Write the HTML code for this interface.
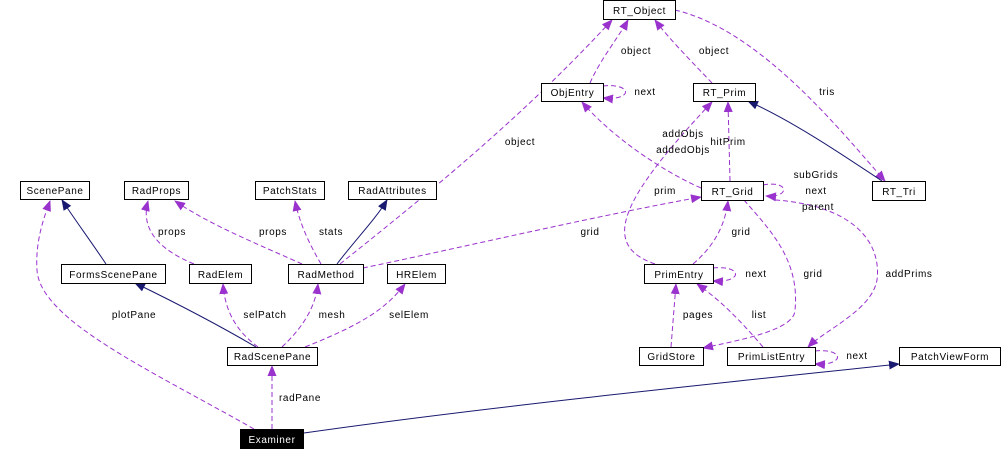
<!DOCTYPE html>
<html><head><meta charset="utf-8"><style>
html,body{margin:0;padding:0;background:#fff}
svg{display:block}
text{font-family:"Liberation Sans",sans-serif;font-size:10px;fill:#000;letter-spacing:0.6px}
.n{fill:#fff;stroke:#000;stroke-width:1}
.p{fill:none;stroke:#9a32cd;stroke-width:1;stroke-dasharray:5,3}
.s{fill:none;stroke:#191970;stroke-width:1}
</style></head><body>
<svg width="1002" height="450" viewBox="0 0 1002 450">
<defs>
<marker id="mp" markerUnits="userSpaceOnUse" markerWidth="12" markerHeight="10" refX="10" refY="4.5" orient="auto"><path d="M0,0 L11,4.5 L0,9 z" fill="#9a32cd"/></marker>
<marker id="ms" markerUnits="userSpaceOnUse" markerWidth="12" markerHeight="10" refX="10" refY="4.5" orient="auto"><path d="M0,0 L11,4.5 L0,9 z" fill="#191970"/></marker>
</defs>
<g marker-end="url(#mp)">
<path class="p" d="M590,83 C600,60 618,38 628,20"/>
<path class="p" d="M712,83 C695,65 670,40 655,20"/>
<path class="p" d="M675,10 C760,30 840,130 885,181"/>
<path class="p" d="M340,264 C420,200 520,120 612,20"/>
<path class="p" d="M701,188 C660,170 610,135 582,102"/>
<path class="p" d="M655,264 C600,245 620,200 712,102"/>
<path class="p" d="M730,181 L728,102"/>
<path class="p" d="M763,185 C790,180 790,198 766,196"/>
<path class="p" d="M775,200 C850,205 882,240 877,280 C872,310 825,330 808,347"/>
<path class="p" d="M363,268 C450,250 600,215 701,197"/>
<path class="p" d="M693,264 C715,245 725,225 728,201"/>
<path class="p" d="M744,200 C770,230 800,260 795,310 C795,330 740,340 703,348"/>
<path class="p" d="M671,347 L676,284"/>
<path class="p" d="M763,347 C740,320 720,300 697,284"/>
<path class="p" d="M815,351 C845,348 845,366 815,364"/>
<path class="p" d="M713,268 C743,265 743,283 713,281"/>
<path class="p" d="M603,86 C633,83 633,101 603,98"/>
<path class="p" d="M254,429 C150,370 40,320 37,270 C35,240 45,215 50,201"/>
<path class="p" d="M194,264 C160,250 140,230 148,201"/>
<path class="p" d="M302,264 C260,245 210,225 175,201"/>
<path class="p" d="M321,264 C310,245 300,225 295,201"/>
<path class="p" d="M258,347 C235,330 225,310 223,284"/>
<path class="p" d="M282,347 C300,330 315,310 318,284"/>
<path class="p" d="M305,347 C360,325 385,310 405,284"/>
<path class="p" d="M272,429 L272,366"/>
</g>
<g marker-end="url(#ms)">
<path class="s" d="M882,181 C850,160 800,125 748,101"/>
<path class="s" d="M106,264 C90,240 75,220 62,200"/>
<path class="s" d="M337,264 C355,240 375,220 387,200"/>
<path class="s" d="M256,347 C210,320 170,300 135,283"/>
<path class="s" d="M304,433 C500,405 750,380 899,364"/>
</g>
<g>
<rect class="n" x="603.5" y="0.5" width="72" height="19"/><text x="639.5" y="14" text-anchor="middle">RT_Object</text>
<rect class="n" x="541.5" y="83.5" width="62" height="18"/><text x="572.5" y="96" text-anchor="middle">ObjEntry</text>
<rect class="n" x="693.5" y="83.5" width="62" height="18"/><text x="724.5" y="96" text-anchor="middle">RT_Prim</text>
<rect class="n" x="701.5" y="181.5" width="62" height="19"/><text x="732.5" y="195" text-anchor="middle">RT_Grid</text>
<rect class="n" x="872.5" y="181.5" width="53" height="19"/><text x="899" y="195" text-anchor="middle">RT_Tri</text>
<rect class="n" x="20.5" y="181.5" width="69" height="18"/><text x="55" y="194" text-anchor="middle">ScenePane</text>
<rect class="n" x="124.5" y="181.5" width="64" height="18"/><text x="156.5" y="194" text-anchor="middle">RadProps</text>
<rect class="n" x="255.5" y="181.5" width="69" height="18"/><text x="290" y="194" text-anchor="middle">PatchStats</text>
<rect class="n" x="348.5" y="181.5" width="88" height="18"/><text x="392.5" y="194" text-anchor="middle">RadAttributes</text>
<rect class="n" x="61.5" y="264.5" width="104" height="19"/><text x="113.5" y="278" text-anchor="middle">FormsScenePane</text>
<rect class="n" x="189.5" y="264.5" width="62" height="19"/><text x="220.5" y="278" text-anchor="middle">RadElem</text>
<rect class="n" x="288.5" y="264.5" width="75" height="19"/><text x="326" y="278" text-anchor="middle">RadMethod</text>
<rect class="n" x="387.5" y="264.5" width="58" height="19"/><text x="416.5" y="278" text-anchor="middle">HRElem</text>
<rect class="n" x="644.5" y="264.5" width="69" height="19"/><text x="679" y="278" text-anchor="middle">PrimEntry</text>
<rect class="n" x="227.5" y="347.5" width="90" height="18"/><text x="272.5" y="360" text-anchor="middle">RadScenePane</text>
<rect class="n" x="639.5" y="347.5" width="64" height="18"/><text x="671.5" y="360" text-anchor="middle">GridStore</text>
<rect class="n" x="727.5" y="347.5" width="88" height="18"/><text x="771.5" y="360" text-anchor="middle">PrimListEntry</text>
<rect class="n" x="899.5" y="347.5" width="101" height="18"/><text x="950" y="360" text-anchor="middle">PatchViewForm</text>
<rect x="240" y="429" width="64" height="20" fill="#000"/><text x="272" y="443" text-anchor="middle" style="fill:#fff">Examiner</text>
</g>
<g text-anchor="middle">
<text x="636" y="54">object</text><text x="714" y="54">object</text>
<text x="645" y="95">next</text><text x="827" y="95">tris</text>
<text x="520" y="145">object</text>
<text x="683" y="137">addObjs</text><text x="683" y="153">addedObjs</text>
<text x="728" y="145">hitPrim</text>
<text x="816" y="178">subGrids</text><text x="816" y="194">next</text><text x="818" y="210">parent</text>
<text x="665" y="194">prim</text>
<text x="172" y="235">props</text><text x="273" y="235">props</text><text x="331" y="235">stats</text>
<text x="590" y="235">grid</text><text x="741" y="235">grid</text>
<text x="813" y="277">grid</text><text x="909" y="277">addPrims</text><text x="756" y="277">next</text>
<text x="134" y="318">plotPane</text><text x="265" y="318">selPatch</text><text x="332" y="318">mesh</text><text x="409" y="318">selElem</text>
<text x="698" y="318">pages</text><text x="759" y="318">list</text>
<text x="857" y="359">next</text><text x="300" y="401">radPane</text>
</g>
</svg>
</body></html>
